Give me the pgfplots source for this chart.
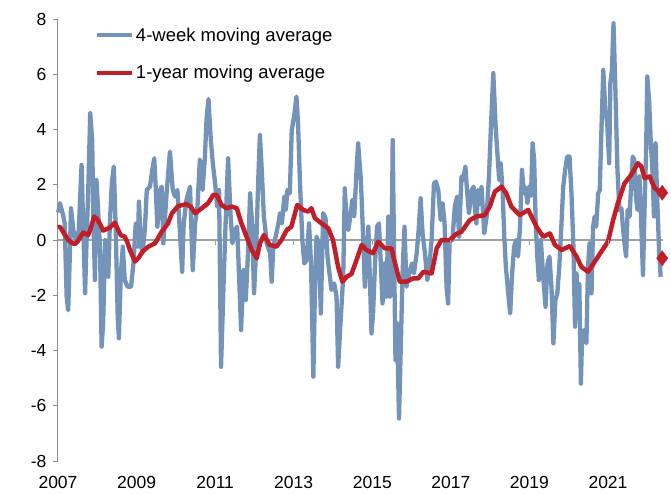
\documentclass[border=0pt]{standalone}
\usepackage{pgfplots}
\pgfplotsset{compat=1.18}
\usepackage{fontspec}
\setmainfont{Liberation Sans}
\definecolor{bl}{RGB}{115,148,184}
\definecolor{rd}{RGB}{192,30,40}
\definecolor{ax}{RGB}{140,140,140}
\definecolor{zl}{RGB}{160,160,160}
\begin{document}
\begin{tikzpicture}
\path[use as bounding box] (-58pt,-32pt) rectangle (613pt,461pt);
\begin{axis}[
  scale only axis, width=605pt, height=442pt,
  xmin=2007, xmax=2022.4, ymin=-8, ymax=8,
  clip=false,
  axis y line*=left, axis x line*=bottom,
  x axis line style={draw=none},
  y axis line style={ax, line width=1pt},
  ytick={-8,-6,...,8}, yticklabels={-8,-6,-4,-2,0,2,4,6,8},
  xtick={2007,2009,...,2021}, xticklabels={2007,2009,2011,2013,2015,2017,2019,2021},
  xtick style={draw=none},
  ytick style={ax, line width=1pt},
  tick align=outside, major tick length=5pt,
  tick label style={font=\fontsize{17.5}{20}\selectfont},
  xticklabel style={yshift=-6.5pt},
  yticklabel style={xshift=-3pt},
  legend style={at={(axis description cs:0.055,0.99)}, anchor=north west, draw=none, fill=none,
     font=\fontsize{18.5}{22}\selectfont, row sep=19pt},
  legend cell align=left,
  legend image code/.code={\draw[#1] (0pt,0pt) -- (35pt,0pt);},
]
\addplot[zl, line width=1.2pt, forget plot] coordinates {(2007,0) (2022.4,0)};
\addplot[only marks, zl, mark=|, mark size=2.5pt, forget plot, every mark/.append style={yshift=-2.5pt, line width=1pt}]
 coordinates {(2009,0) (2011,0) (2013,0) (2015,0) (2017,0) (2019,0) (2021,0)};
\addplot[bl, line width=4.3pt, line join=round] coordinates {
(2007.0,1.0) (2007.02,1.1) (2007.05,1.33) (2007.13,0.9) (2007.17,0.6) (2007.22,-2.05) (2007.26,-2.54)
(2007.3,-0.6) (2007.33,1.15) (2007.39,0.36) (2007.43,0.1) (2007.5,0.0) (2007.53,0.4) (2007.6,2.72)
(2007.64,0.6) (2007.69,-1.93) (2007.73,0.12) (2007.77,1.81) (2007.82,4.59) (2007.87,3.62) (2007.9,0.85)
(2007.94,-1.45) (2007.98,2.17) (2008.03,0.85) (2008.07,-0.36) (2008.11,-3.86) (2008.15,-3.0) (2008.2,0.0)
(2008.24,-0.6) (2008.28,-1.33) (2008.32,0.6) (2008.37,2.05) (2008.42,2.66) (2008.47,0.36) (2008.52,-2.78)
(2008.55,-3.56) (2008.6,-1.21) (2008.65,-0.24) (2008.7,-1.45) (2008.77,-1.69) (2008.86,-1.69) (2008.92,-0.85)
(2008.98,0.6) (2009.03,-0.24) (2009.06,1.39) (2009.11,-0.12) (2009.15,-0.48) (2009.21,0.36) (2009.26,1.81)
(2009.34,1.93) (2009.4,2.54) (2009.45,2.96) (2009.49,1.81) (2009.53,0.48) (2009.6,1.81) (2009.64,1.93)
(2009.68,-0.12) (2009.77,1.81) (2009.85,3.2) (2009.92,1.81) (2009.98,1.57) (2010.04,1.81) (2010.1,0.36)
(2010.16,-1.15) (2010.2,0.6) (2010.27,1.45) (2010.36,1.93) (2010.43,-1.09) (2010.49,0.6) (2010.55,1.21)
(2010.61,2.9) (2010.68,1.81) (2010.74,3.02) (2010.78,4.35) (2010.83,5.1) (2010.89,3.62) (2010.94,2.78)
(2011.0,2.05) (2011.05,1.21) (2011.1,1.81) (2011.15,-4.59) (2011.21,-1.81) (2011.26,0.36) (2011.33,2.96)
(2011.39,0.97) (2011.44,-0.12) (2011.5,0.36) (2011.56,0.48) (2011.61,-1.33) (2011.66,-3.26) (2011.72,-1.09)
(2011.78,-2.17) (2011.84,-0.36) (2011.89,1.69) (2011.94,0.6) (2011.99,-1.93) (2012.04,-0.48) (2012.1,2.3)
(2012.14,3.8) (2012.19,2.42) (2012.24,0.85) (2012.27,0.5) (2012.31,-0.12) (2012.34,-0.24) (2012.4,-0.48)
(2012.44,-1.51) (2012.48,-0.24) (2012.54,0.12) (2012.61,0.6) (2012.65,0.97) (2012.7,0.6) (2012.76,1.57)
(2012.8,1.09) (2012.84,1.81) (2012.9,1.69) (2012.95,3.98) (2013.01,4.47) (2013.07,5.19) (2013.11,4.23)
(2013.16,2.05) (2013.22,0.0) (2013.27,-0.85) (2013.33,-0.72) (2013.39,0.6) (2013.44,-0.85) (2013.5,-4.95)
(2013.54,-1.81) (2013.58,0.12) (2013.64,-0.12) (2013.69,-2.66) (2013.75,0.97) (2013.81,0.79) (2013.86,-0.6)
(2013.92,-1.33) (2013.96,-1.81) (2014.03,-1.57) (2014.09,-2.05) (2014.13,-4.59) (2014.2,-2.78) (2014.26,-1.33)
(2014.3,1.87) (2014.35,0.6) (2014.39,0.36) (2014.44,0.85) (2014.49,1.45) (2014.54,0.85) (2014.6,2.54)
(2014.64,3.5) (2014.71,2.17) (2014.77,0.0) (2014.81,-1.69) (2014.86,-0.6) (2014.9,0.48) (2014.94,-1.45)
(2014.98,-3.38) (2015.02,-2.66) (2015.07,-0.85) (2015.12,0.48) (2015.17,0.6) (2015.22,-0.97) (2015.26,-2.3)
(2015.31,-0.85) (2015.36,-2.05) (2015.41,0.85) (2015.45,-2.05) (2015.49,-0.48) (2015.52,3.62) (2015.55,0.0)
(2015.59,-4.35) (2015.63,-3.02) (2015.68,-6.46) (2015.73,-3.62) (2015.77,-1.21) (2015.82,0.48) (2015.87,-1.69)
(2015.94,-1.21) (2016.01,-0.85) (2016.06,-1.21) (2016.13,-0.48) (2016.18,0.36) (2016.23,1.51) (2016.28,0.24)
(2016.34,-0.48) (2016.4,-1.45) (2016.45,-0.97) (2016.51,0.0) (2016.57,2.05) (2016.62,2.11) (2016.68,1.81)
(2016.74,0.72) (2016.79,1.33) (2016.84,0.6) (2016.89,-1.69) (2016.93,-2.3) (2016.97,0.0) (2017.04,0.0)
(2017.1,1.21) (2017.16,1.57) (2017.21,0.12) (2017.27,2.3) (2017.31,2.17) (2017.37,2.66) (2017.41,1.81)
(2017.46,0.97) (2017.53,1.81) (2017.58,1.93) (2017.61,1.2) (2017.65,0.6) (2017.69,1.81) (2017.74,1.3)
(2017.78,1.93) (2017.85,0.24) (2017.91,0.85) (2017.97,2.3) (2018.02,4.1) (2018.08,6.04) (2018.14,4.1)
(2018.19,3.02) (2018.23,2.17) (2018.27,2.78) (2018.32,1.69) (2018.36,0.12) (2018.4,-0.97) (2018.46,-1.93)
(2018.51,-2.66) (2018.56,-1.21) (2018.61,-0.24) (2018.66,0.0) (2018.71,-0.6) (2018.76,0.48) (2018.81,2.54)
(2018.86,1.69) (2018.9,1.9) (2018.95,1.33) (2018.99,1.93) (2019.04,1.6) (2019.08,3.5) (2019.12,2.9)
(2019.16,0.6) (2019.2,-0.6) (2019.24,-1.45) (2019.29,0.0) (2019.35,-1.33) (2019.41,-2.42) (2019.46,-0.85)
(2019.51,-0.6) (2019.56,-1.69) (2019.61,-3.74) (2019.66,-2.17) (2019.71,-1.93) (2019.76,-0.97) (2019.82,0.72)
(2019.86,1.93) (2019.91,2.54) (2019.96,3.02) (2020.02,3.02) (2020.07,1.69) (2020.12,-0.24) (2020.16,-3.14)
(2020.2,-1.21) (2020.23,-2.5) (2020.27,-1.6) (2020.31,-5.2) (2020.34,-3.5) (2020.39,-3.26) (2020.45,-3.74)
(2020.49,-0.97) (2020.53,-0.12) (2020.58,-1.93) (2020.62,0.48) (2020.66,0.85) (2020.7,0.48) (2020.75,1.69)
(2020.79,1.8) (2020.83,3.86) (2020.88,6.16) (2020.93,4.71) (2020.98,4.23) (2021.03,2.78) (2021.06,5.68)
(2021.1,6.16) (2021.14,7.85) (2021.19,5.31) (2021.24,2.54) (2021.29,1.09) (2021.34,1.15) (2021.38,0.48)
(2021.42,-0.12) (2021.46,-0.6) (2021.5,1.09) (2021.55,0.85) (2021.59,2.05) (2021.63,3.02) (2021.67,2.9)
(2021.71,1.57) (2021.75,1.09) (2021.8,2.3) (2021.84,0.85) (2021.89,-1.27) (2021.93,1.09) (2021.97,3.26)
(2022.0,5.92) (2022.05,4.95) (2022.09,3.5) (2022.13,2.54) (2022.17,0.85) (2022.21,3.5) (2022.25,1.57)
(2022.3,-0.36) (2022.34,-1.33)
};
\addlegendentry{4-week moving average}
\addplot[rd, line width=4.5pt, line join=round] coordinates {
(2007.0,0.45) (2007.05,0.48) (2007.15,0.25) (2007.26,0.0) (2007.35,-0.1) (2007.43,-0.15) (2007.5,-0.05)
(2007.64,0.27) (2007.77,0.18) (2007.85,0.5) (2007.92,0.85) (2008.0,0.75) (2008.08,0.55) (2008.15,0.34)
(2008.32,0.45) (2008.45,0.63) (2008.52,0.4) (2008.6,0.17) (2008.7,0.12) (2008.77,-0.1) (2008.83,-0.36)
(2008.96,-0.78) (2009.05,-0.65) (2009.15,-0.42) (2009.3,-0.24) (2009.47,-0.12) (2009.64,0.3) (2009.8,0.6)
(2009.9,0.97) (2010.06,1.23) (2010.27,1.3) (2010.38,1.2) (2010.49,0.97) (2010.66,1.15) (2010.82,1.33)
(2010.95,1.63) (2011.04,1.63) (2011.16,1.27) (2011.29,1.15) (2011.42,1.21) (2011.55,1.15) (2011.67,0.6)
(2011.8,0.12) (2011.93,-0.36) (2012.06,-0.66) (2012.14,-0.12) (2012.24,0.18) (2012.39,-0.18) (2012.56,-0.24)
(2012.69,0.0) (2012.82,0.36) (2012.94,0.48) (2013.09,1.27) (2013.24,1.09) (2013.37,1.03) (2013.45,1.15)
(2013.54,0.79) (2013.71,0.6) (2013.88,0.42) (2014.0,0.0) (2014.13,-0.97) (2014.24,-1.51) (2014.35,-1.33)
(2014.47,-1.23) (2014.6,-0.72) (2014.73,-0.18) (2014.85,-0.36) (2015.02,-0.48) (2015.15,-0.06) (2015.32,-0.3)
(2015.49,-0.3) (2015.57,-0.79) (2015.7,-1.51) (2015.87,-1.51) (2016.04,-1.39) (2016.17,-1.39) (2016.3,-1.15)
(2016.51,-1.21) (2016.64,-0.3) (2016.76,0.0) (2016.97,0.0) (2017.14,0.22) (2017.27,0.3) (2017.48,0.72)
(2017.65,0.85) (2017.86,0.9) (2017.99,1.21) (2018.12,1.75) (2018.29,1.93) (2018.41,1.69) (2018.54,1.21)
(2018.75,0.9) (2018.97,1.09) (2019.18,0.48) (2019.35,0.12) (2019.52,0.24) (2019.65,-0.18) (2019.82,-0.36)
(2020.03,-0.22) (2020.2,-0.6) (2020.32,-0.97) (2020.49,-1.15) (2020.66,-0.79) (2020.83,-0.42) (2021.0,-0.06)
(2021.13,0.72) (2021.25,1.33) (2021.42,2.05) (2021.59,2.36) (2021.76,2.78) (2021.85,2.66) (2021.93,2.24)
(2022.06,2.3) (2022.19,1.87) (2022.32,1.75) (2022.38,1.71)
};
\addlegendentry{1-year moving average}
\addplot[only marks, mark=diamond*, mark size=7.5pt, rd, forget plot] coordinates {(2022.38,1.71) (2022.38,-0.66)};
\end{axis}
\end{tikzpicture}
\end{document}
